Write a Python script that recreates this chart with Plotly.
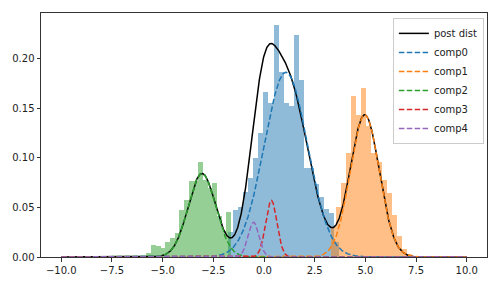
import numpy as np
import plotly.graph_objects as go

# ---- histogram data (density heights) ----
green_start = -5.80
green_width = 0.232
green_heights = [0.004, 0.012, 0.011, 0.009, 0.015, 0.019, 0.024, 0.047, 0.057,
                 0.077, 0.077, 0.096, 0.078, 0.069, 0.075, 0.041, 0.026, 0.045]

blue_start = -1.78
blue_width = 0.25
blue_heights = [0.025, 0.047, 0.050, 0.065, 0.080, 0.100, 0.125, 0.166, 0.155,
                0.234, 0.186, 0.155, 0.152, 0.224, 0.178, 0.090, 0.090, 0.074,
                0.060, 0.048, 0.044, 0.015]

orange_start = 3.30
orange_width = 0.25
orange_heights = [0.030, 0.050, 0.075, 0.105, 0.162, 0.143, 0.170, 0.132, 0.105,
                  0.096, 0.078, 0.064, 0.042, 0.021, 0.008, 0.003]

# ---- mixture components (mean, sigma, peak density) ----
comp_names = ["comp0", "comp1", "comp2", "comp3", "comp4"]
comp_means = [1.08, 4.97, -3.06, 0.36, -0.52]
comp_sigmas = [1.07, 0.72, 0.68, 0.28, 0.27]
comp_peaks = [0.186, 0.143, 0.084, 0.057, 0.035]
comp_colors = ["#1f77b4", "#ff7f0e", "#2ca02c", "#d62728", "#9467bd"]

# ---- posterior density curve, described by its own bumps ----
post_means = [-3.06, -0.10, 1.10, 4.97]
post_sigmas = [0.68, 0.60, 1.05, 0.72]
post_peaks = [0.084, 0.100, 0.180, 0.143]

x_ticks = [-10.0, -7.5, -5.0, -2.5, 0.0, 2.5, 5.0, 7.5, 10.0]
y_ticks = [0.00, 0.05, 0.10, 0.15, 0.20]

x_grid = np.linspace(-10, 10, 1000)

fig = go.Figure()

def add_hist(start, width, heights, color):
    centers = [start + width * (i + 0.5) for i in range(len(heights))]
    fig.add_trace(go.Bar(x=centers, y=heights, width=[width] * len(heights),
                         marker=dict(color=color, opacity=0.5, line=dict(width=0)),
                         showlegend=False, hoverinfo="skip"))

add_hist(blue_start, blue_width, blue_heights, "#1f77b4")
add_hist(orange_start, orange_width, orange_heights, "#ff7f0e")
add_hist(green_start, green_width, green_heights, "#2ca02c")

def bump(m, s, p):
    return p * np.exp(-0.5 * ((x_grid - m) / s) ** 2)

comps = [bump(m, s, p) for m, s, p in zip(comp_means, comp_sigmas, comp_peaks)]
post = np.sum([bump(m, s, p) for m, s, p in zip(post_means, post_sigmas, post_peaks)], axis=0)

fig.add_trace(go.Scatter(x=x_grid, y=post, mode="lines", name="post dist",
                         line=dict(color="black", width=1.5)))
for name, c, col in zip(comp_names, comps, comp_colors):
    fig.add_trace(go.Scatter(x=x_grid, y=c, mode="lines", name=name,
                             line=dict(color=col, width=1.5, dash="5.5px,2.4px")))

ymax = 1.05 * max(max(blue_heights), max(orange_heights), max(green_heights), post.max())

axis_common = dict(showline=True, linecolor="#333", linewidth=1, mirror=True,
                   ticks="outside", ticklen=3.5, tickcolor="#333", tickwidth=1,
                   showgrid=False, zeroline=False,
                   tickfont=dict(family="DejaVu Sans", size=10, color="#222"))

fig.update_layout(
    width=500, height=288,
    margin=dict(l=41, r=13, t=12, b=27),
    paper_bgcolor="white", plot_bgcolor="white",
    barmode="overlay", bargap=0,
    xaxis=dict(range=[-11, 11], tickvals=x_ticks,
               ticktext=[f"{v:.1f}".replace("-", "\u2212") for v in x_ticks], **axis_common),
    yaxis=dict(range=[0, ymax], tickvals=y_ticks,
               ticktext=[f"{v:.2f}" for v in y_ticks], **axis_common),
    legend=dict(x=0.993, y=0.98, xanchor="right", yanchor="top",
                bgcolor="rgba(255,255,255,0.8)", bordercolor="#cccccc", borderwidth=1,
                font=dict(family="DejaVu Sans", size=10, color="#222"),
                tracegroupgap=0, itemwidth=30),
    showlegend=True,
)

fig.write_html("out.html")
